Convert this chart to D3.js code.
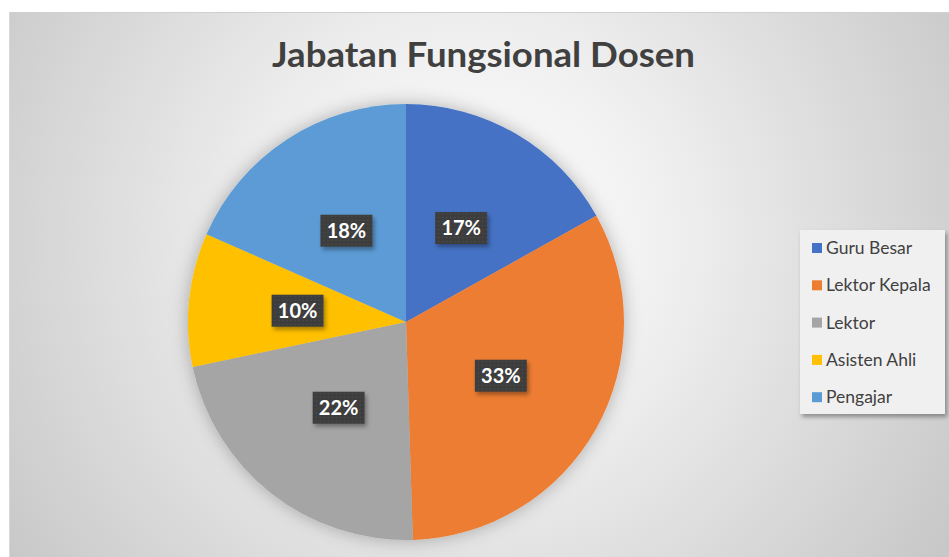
<!DOCTYPE html>
<html><head><meta charset="utf-8">
<script src="https://cdn.jsdelivr.net/npm/d3@7"></script>
<style>html,body{margin:0;padding:0;background:#fff;}svg{display:block;}</style>
</head><body>
<script>
const categories = ["Guru Besar","Lektor Kepala","Lektor","Asisten Ahli","Pengajar"];
const values = [16.9, 32.6, 22.2, 9.9, 18.4];
const colors = ["#4472C4","#ED7D31","#A5A5A5","#FFC000","#5B9BD5"];
const title = "Jabatan Fungsional Dosen";

const W = 949, H = 557;
const svg = d3.select("body").append("svg").attr("width", W).attr("height", H);
const defs = svg.append("defs");

const bg = defs.append("radialGradient").attr("id","bg")
  .attr("gradientUnits","userSpaceOnUse").attr("cx",470).attr("cy",240).attr("r",560);
bg.append("stop").attr("offset","0").attr("stop-color","#ffffff");
bg.append("stop").attr("offset","0.35").attr("stop-color","#f0f0f0");
bg.append("stop").attr("offset","1").attr("stop-color","#c8c8c8");

const glow = defs.append("filter").attr("id","glow").attr("x","-30%").attr("y","-30%").attr("width","160%").attr("height","160%");
glow.append("feGaussianBlur").attr("in","SourceAlpha").attr("stdDeviation",9).attr("result","b");
glow.append("feFlood").attr("flood-color","#000").attr("flood-opacity",0.28);
glow.append("feComposite").attr("in2","b").attr("operator","in").attr("result","s");
const gm = glow.append("feMerge"); gm.append("feMergeNode").attr("in","s"); gm.append("feMergeNode").attr("in","SourceGraphic");

const sh = defs.append("filter").attr("id","sh").attr("x","-30%").attr("y","-30%").attr("width","160%").attr("height","160%");
sh.append("feGaussianBlur").attr("in","SourceAlpha").attr("stdDeviation",2).attr("result","b");
sh.append("feOffset").attr("dx",2).attr("dy",3).attr("result","o");
sh.append("feFlood").attr("flood-color","#000").attr("flood-opacity",0.35);
sh.append("feComposite").attr("in2","o").attr("operator","in").attr("result","s");
const sm = sh.append("feMerge"); sm.append("feMergeNode").attr("in","s"); sm.append("feMergeNode").attr("in","SourceGraphic");

const pat = defs.append("pattern").attr("id","dots").attr("width",4).attr("height",4).attr("patternUnits","userSpaceOnUse");
pat.append("rect").attr("width",4).attr("height",4).attr("fill","#3d3d3d");
pat.append("rect").attr("x",1).attr("y",1).attr("width",1).attr("height",1).attr("fill","#555");

// chart area
svg.append("rect").attr("x",9).attr("y",12).attr("width",W-9).attr("height",H-12).attr("fill","url(#bg)");
svg.append("line").attr("x1",9).attr("x2",W).attr("y1",12.5).attr("y2",12.5).attr("stroke","#d0d0d0");
svg.append("line").attr("x1",9.5).attr("x2",9.5).attr("y1",12).attr("y2",H).attr("stroke","#d8d8d8");

// title
svg.append("text").attr("x",483.5).attr("y",67).attr("text-anchor","middle")
  .attr("font-family","Lato, 'Open Sans', sans-serif").attr("font-weight","bold").attr("font-size",35)
  .attr("fill","#404040").attr("textLength",423).attr("lengthAdjust","spacingAndGlyphs").text(title);

// pie
const cx = 406, cy = 322, R = 218;
const pie = d3.pie().sort(null).value(d => d)(values);
const arc = d3.arc().innerRadius(0).outerRadius(R);
const total = d3.sum(values);
const g = svg.append("g").attr("transform",`translate(${cx},${cy})`);
g.append("g").attr("filter","url(#glow)").selectAll("path").data(pie).join("path")
  .attr("d",arc).attr("fill",(d,i)=>colors[i]);

const lab = g.selectAll("g.lab").data(pie).join("g").attr("class","lab")
  .attr("transform",d=>{const c=arc.centroid(d);return `translate(${c[0]},${c[1]})`;});
lab.append("rect").attr("x",-26).attr("y",-16).attr("width",52).attr("height",32)
  .attr("fill","url(#dots)").attr("filter","url(#sh)");
lab.append("text").attr("text-anchor","middle").attr("dy","0.36em")
  .attr("font-family","Lato, 'Open Sans', sans-serif").attr("font-weight","bold").attr("font-size",20)
  .attr("fill","#fff").text(d=>Math.round(d.value/total*100)+"%");

// legend
const lg = svg.append("g");
lg.append("rect").attr("x",800).attr("y",230).attr("width",145).attr("height",184)
  .attr("fill","#f0f0f0").attr("filter","url(#sh)");
const items = lg.selectAll("g.it").data(categories).join("g").attr("class","it")
  .attr("transform",(d,i)=>`translate(812,${248+i*37.3})`);
items.append("rect").attr("x",0).attr("y",-5).attr("width",10).attr("height",10).attr("fill",(d,i)=>colors[i]);
items.append("text").attr("x",14).attr("dy","0.35em")
  .attr("font-family","Lato, 'Open Sans', sans-serif").attr("font-size",17.5).attr("fill","#404040").text(d=>d);
</script>
</body></html>
